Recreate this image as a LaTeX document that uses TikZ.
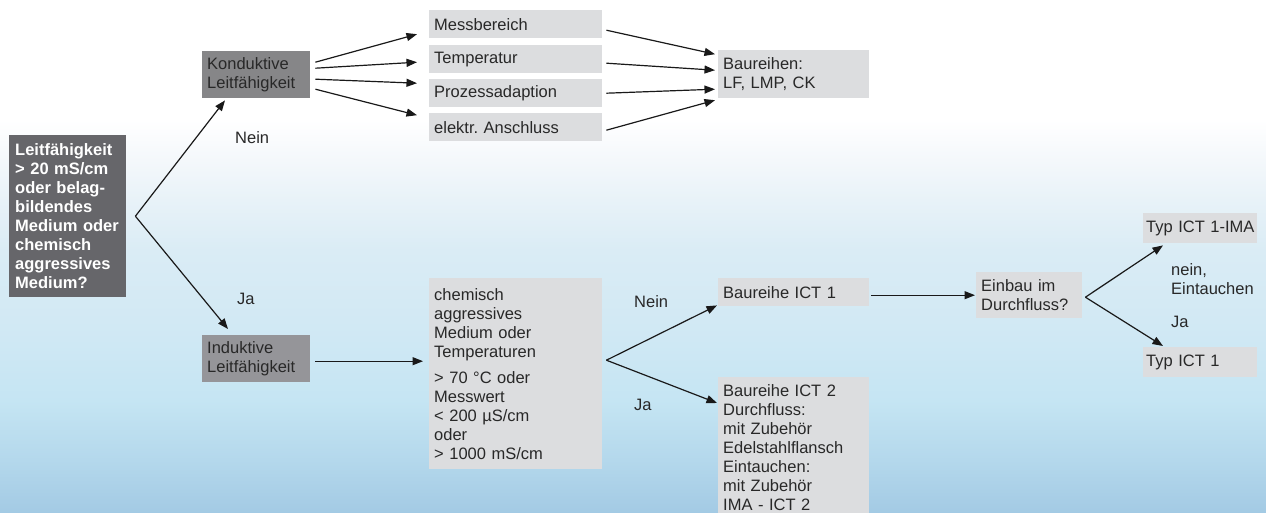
\documentclass[tikz,border=0pt]{standalone}
\usepackage{fontspec}
\setmainfont{Liberation Sans}
\usetikzlibrary{arrows.meta}
\definecolor{boxlight}{RGB}{220,221,223}
\definecolor{boxdark}{RGB}{102,102,106}
\definecolor{boxkond}{RGB}{134,134,136}
\definecolor{boxind}{RGB}{149,149,153}
\definecolor{txt}{RGB}{40,40,40}
\definecolor{linec}{RGB}{25,25,25}
\definecolor{bgA}{RGB}{163,202,228}
\definecolor{bgB}{RGB}{180,216,236}
\definecolor{bgC}{RGB}{197,229,243}
\definecolor{bgD}{RGB}{210,233,244}
\definecolor{bgE}{RGB}{218,236,245}
\definecolor{bgF}{RGB}{232,242,248}
\definecolor{bgG}{RGB}{244,248,251}
\pgfdeclareverticalshading{bgshade}{100bp}{color(0bp)=(bgA); color(25bp)=(bgA); color(30.2bp)=(bgB); color(36bp)=(bgC); color(43.8bp)=(bgD); color(50.6bp)=(bgE); color(55.5bp)=(bgF); color(59.4bp)=(bgG); color(63.3bp)=(white); color(100bp)=(white)}
\tikzset{
  box/.style={rectangle, fill=boxlight, anchor=north west, align=left, inner xsep=5pt, inner ysep=3pt, font=\frenchspacing\fontsize{16.5}{19}\selectfont, text=txt},
  arr/.style={draw=linec, line width=1.2pt, -{Triangle[length=10.5pt,width=8pt]}},
  lbl/.style={anchor=base west, inner sep=0pt, font=\fontsize{16.5}{19}\selectfont, text=txt},
}
\begin{document}
\frenchspacing
\begin{tikzpicture}[x=1pt,y=-1pt]
\useasboundingbox (0,0) rectangle (1266,513);
\clip (0,0) rectangle (1266,513);
\shade[shading=bgshade] (0,0) rectangle (1266,513);

% boxes
\node[box, fill=boxdark, text=white, font=\frenchspacing\bfseries\fontsize{16.5}{19}\selectfont, text width=105pt, inner xsep=6pt, minimum height=162pt] (q) at (9,135) {Leitfähigkeit\\> 20 mS/cm\\oder belag-\\bildendes\\Medium oder\\chemisch\\aggressives\\Medium?};
\node[box, fill=boxkond, text width=98pt, minimum height=47pt] (kond) at (202,51) {Konduktive\\Leitfähigkeit};
\node[box, fill=boxind, text width=98pt, minimum height=47pt] (ind) at (202,335) {Induktive\\Leitfähigkeit};
\node[box, text width=163pt, minimum height=28pt] (mess) at (429,10) {Messbereich};
\node[box, text width=163pt, minimum height=28pt] (temp) at (429,45) {Temperatur};
\node[box, text width=163pt, minimum height=28pt] (proz) at (429,79) {Prozessadaption};
\node[box, text width=163pt, minimum height=28pt] (elek) at (429,113) {elektr.\ Anschluss};
\node[box, text width=141pt, minimum height=48pt] (baur) at (718,50) {Baureihen:\\LF, LMP, CK};
\node[box, text width=163pt, minimum height=191pt] (chem) at (429,278) {chemisch\\aggressives\\Medium oder\\Temperaturen\\[7pt]> 70 °C oder\\Messwert\\< 200 µS/cm\\oder\\> 1000 mS/cm};
\node[box, text width=141pt, minimum height=28pt] (ict1) at (718,278) {Baureihe ICT 1};
\node[box, text width=141pt, inner ysep=7pt] (ict2) at (718,377) {Baureihe ICT 2\\Durchfluss:\\mit Zubehör\\Edelstahlflansch\\Eintauchen:\\mit Zubehör\\IMA - ICT 2};
\node[box, text width=96pt, minimum height=46pt] (einb) at (976,272) {Einbau im\\Durchfluss?};
\node[box, text width=108pt, inner xsep=3pt, minimum height=30pt] (ima) at (1143,213) {\mbox{Typ ICT 1-IMA}};
\node[box, text width=108pt, inner xsep=3pt, minimum height=30pt] (typ1) at (1143,347) {Typ ICT 1};

% labels
\node[lbl] (l1) at (235,144) {Nein};
\node[lbl] (l2) at (237,304) {Ja};
\node[lbl] (l3) at (634,307) {Nein};
\node[lbl] (l4) at (634,410) {Ja};
\node[lbl, anchor=north west, align=left] (l5) at (1171,263) {nein,\\Eintauchen};
\node[lbl] (l6) at (1171,327) {Ja};

% branch vertices
\coordinate (v1) at ([xshift=9pt]q.east);
\coordinate (v2) at ([shift={(4pt,13.5pt)}]chem.east);
\coordinate (v3) at ([shift={(3pt,-2pt)}]einb.east);

% connectors
\draw[arr] (v1) -- ([shift={(23pt,-2pt)}]kond.south west);
\draw[arr] (v1) -- ([shift={(26pt,6pt)}]ind.north west);

\draw[arr] ([shift={(5pt,12.5pt)}]kond.east) -- ([shift={(-12pt,-10pt)}]mess.west);
\draw[arr] ([shift={(5pt,6.5pt)}]kond.east) -- ([shift={(-12pt,-3pt)}]temp.west);
\draw[arr] ([shift={(5pt,-4.5pt)}]kond.east) -- ([shift={(-12pt,10pt)}]proz.west);
\draw[arr] ([shift={(5pt,-14.5pt)}]kond.east) -- ([shift={(-12pt,12pt)}]elek.west);

\draw[arr] ([shift={(4pt,-6pt)}]mess.east) -- ([shift={(-3pt,20pt)}]baur.west);
\draw[arr] ([shift={(4pt,-4pt)}]temp.east) -- ([shift={(-3pt,4pt)}]baur.west);
\draw[arr] ([shift={(4pt,0pt)}]proz.east) -- ([shift={(-3pt,-15pt)}]baur.west);
\draw[arr] ([shift={(4pt,-3pt)}]elek.east) -- ([shift={(-3pt,-26pt)}]baur.west);

\draw[arr] ([shift={(5pt,-2.5pt)}]ind.east) -- ([shift={(-6pt,12.5pt)}]chem.west);

\draw[arr] (v2) -- ([shift={(-1pt,1pt)}]ict1.south west);
\draw[arr] (v2) -- ([shift={(-1pt,-26pt)}]ict2.north west);

\draw[arr] ([shift={(2pt,-3pt)}]ict1.east) -- ([xshift=-1pt]einb.west);

\draw[arr] (v3) -- ([shift={(20pt,-2pt)}]ima.south west);
\draw[arr] (v3) -- ([shift={(20pt,1pt)}]typ1.north west);
\end{tikzpicture}
\end{document}
